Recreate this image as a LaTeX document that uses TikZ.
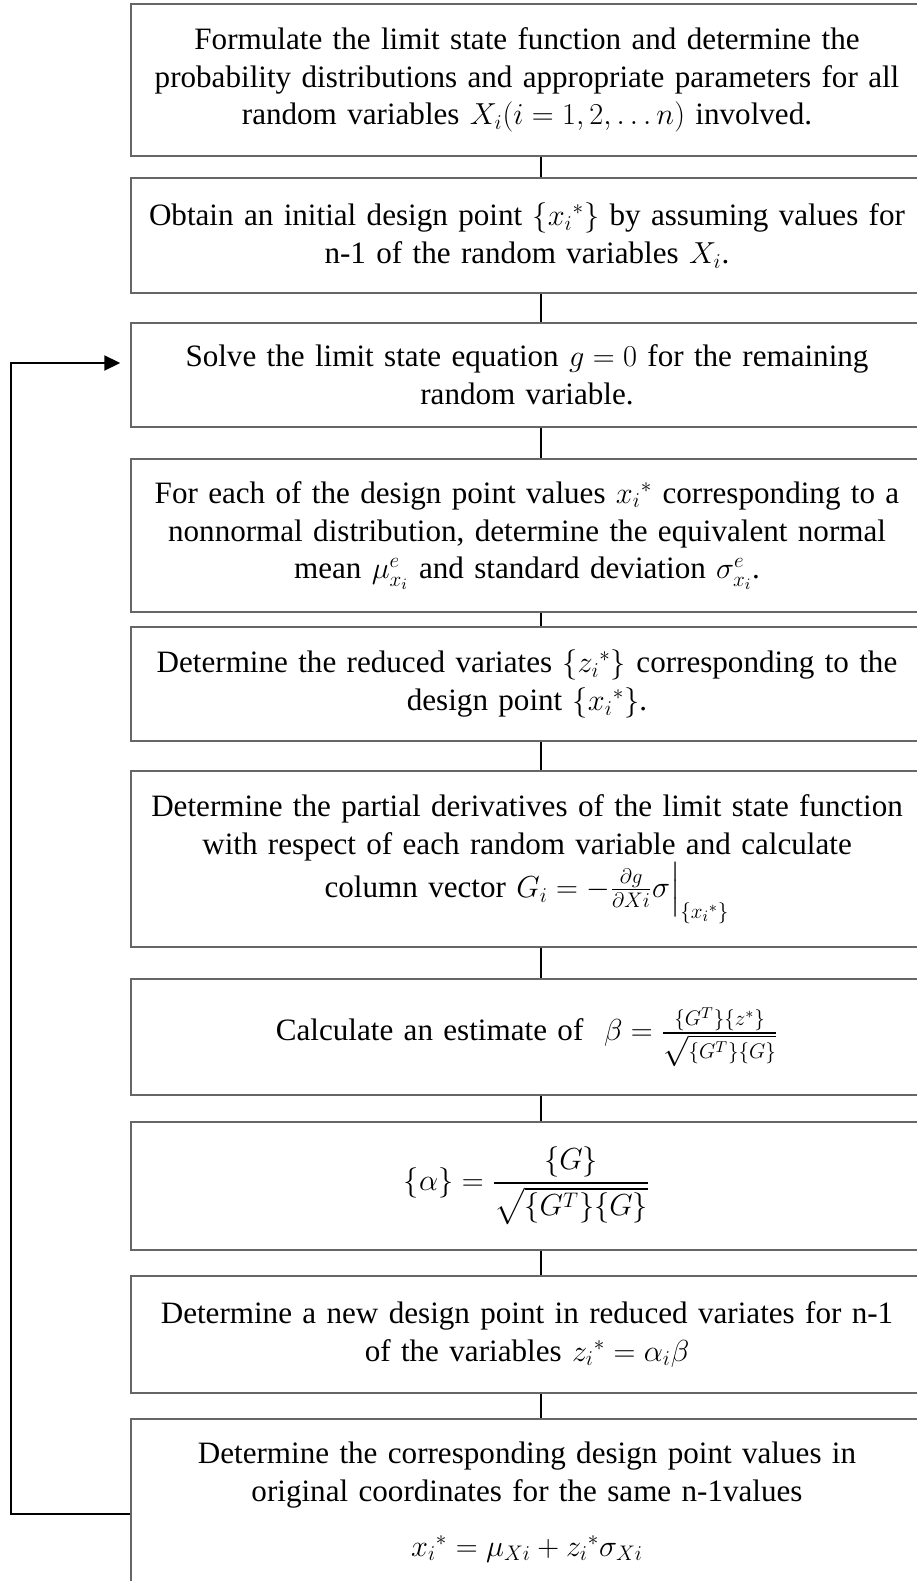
\documentclass[tikz,border=0pt]{standalone}
\usepackage{amsmath}
\usepackage{fontspec}
\setmainfont{Liberation Serif}
\usetikzlibrary{arrows.meta}
\thickmuskip=5mu
\medmuskip=4mu

\begin{document}
\begin{tikzpicture}[
        stepbox/.style={draw=black!60, line width=0.8pt, minimum width=15.84cm,
            text width=15.4cm, align=center, inner xsep=0.2cm,
            font=\fontsize{17.7}{21.5}\selectfont},
        link/.style={line width=1.1pt},
        thinlink/.style={line width=0.6pt},
        feedback/.style={-{Triangle[length=0.32cm,width=0.3cm]}, line width=1.1pt}
    ]
        \clip (0,0) rectangle (18.34,-31.62);

        % Steps
        \node[stepbox, minimum height=3.04cm] (form) at (10.54,-1.6) {Formulate the limit state function and determine the\\
            probability distributions and appropriate parameters for all\\
            random variables $X_i(i = 1,2, \dots n)$ involved.};
        \node[stepbox, minimum height=2.30cm] (init) at (10.54,-4.71) {Obtain an initial design point $\{x_i{}^*\}$ by assuming values for\\
            n-1 of the random variables $X_i$.};
        \node[stepbox, minimum height=2.08cm] (solve) at (10.54,-7.5) {Solve the limit state equation $g = 0$ for the remaining\\
            random variable.};
        \node[stepbox, minimum height=3.06cm] (equiv) at (10.54,-10.71) {For each of the design point values $x_i{}^*$ corresponding to a\\
            nonnormal distribution, determine the equivalent normal\\
            mean $\mu^e_{x_i}$ and standard deviation $\sigma^e_{x_i}$.};
        \node[stepbox, minimum height=2.28cm] (reduce) at (10.54,-13.68) {Determine the reduced variates $\{z_i{}^*\}$ corresponding to the\\
            design point $\{x_i{}^*\}$.};
        \node[stepbox, minimum height=3.52cm] (deriv) at (10.54,-17.18) {Determine the partial derivatives of the limit state function\\
            with respect of each random variable and calculate\\
            column vector $G_i = -\frac{\partial g}{\partial Xi}\sigma\Big|_{\{x_i{}^*\}}$};
        \node[stepbox, minimum height=2.32cm] (beta) at (10.54,-20.74) {Calculate an estimate of \ $\beta = \frac{\{G^T\}\{z^*\}}{\sqrt{\{G^T\}\{G\}}}$};
        \node[stepbox, minimum height=2.56cm] (alpha) at (10.54,-23.72) {$\displaystyle \{\alpha\} = \frac{\{G\}}{\sqrt{\{G^T\}\{G\}}}$};
        \node[stepbox, minimum height=2.34cm] (newz) at (10.54,-26.69) {Determine a new design point in reduced variates for n-1\\
            of the variables $z_i{}^* = \alpha_i\beta$};
        \node[stepbox, minimum height=3.32cm] (newx) at (10.54,-30.04) {Determine the corresponding design point values in\\
            original coordinates for the same n-1values\\[0.35cm]
            $x_i{}^* = \mu_{Xi} + z_i{}^*\sigma_{Xi}$};

        % Connectors
        \coordinate (spine) at (10.82,0);
        \draw[link] (form.south -| spine) -- (init.north -| spine);
        \draw[link] (init.south -| spine) -- (solve.north -| spine);
        \draw[thinlink] (solve.south -| spine) -- (equiv.north -| spine);
        \draw[link] (equiv.south -| spine) -- (reduce.north -| spine);
        \draw[link] (reduce.south -| spine) -- (deriv.north -| spine);
        \draw[link] (deriv.south -| spine) -- (beta.north -| spine);
        \draw[link] (beta.south -| spine) -- (alpha.north -| spine);
        \draw[thinlink] (alpha.south -| spine) -- (newz.north -| spine);
        \draw[thinlink] (newz.south -| spine) -- (newx.north -| spine);

        % Loop back
        \coordinate (loopx) at (0.22,-15);
        \draw[feedback, shorten >=0.2cm] ([yshift=-0.24cm]newx.west) -| (loopx) |- ([yshift=0.24cm]solve.west);
    \end{tikzpicture}
\end{document}
